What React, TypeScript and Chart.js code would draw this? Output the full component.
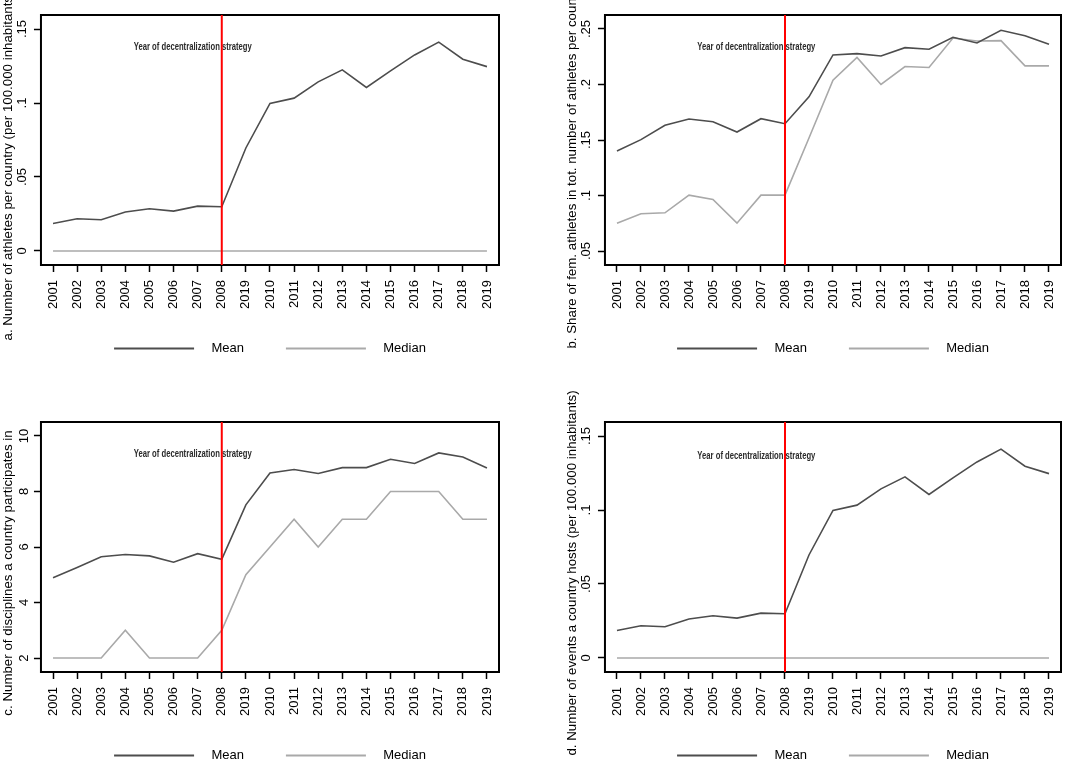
import React, { useEffect, useRef } from 'react';
import { Chart, registerables } from 'chart.js';

Chart.register(...registerables);

// ---------- data ----------
const years = ['2001', '2002', '2003', '2004', '2005', '2006', '2007', '2008', '2019', '2010', '2011', '2012', '2013', '2014', '2015', '2016', '2017', '2018', '2019'];

const athletesMean = [0.0186, 0.0218, 0.0211, 0.0263, 0.0285, 0.0269, 0.0303, 0.0299, 0.0696, 0.0997, 0.1033, 0.1143, 0.1224, 0.1105, 0.1217, 0.1325, 0.1412, 0.1296, 0.1246];
const athletesMedian = [0, 0, 0, 0, 0, 0, 0, 0, 0, 0, 0, 0, 0, 0, 0, 0, 0, 0, 0];

const femShareMean = [0.1401, 0.1503, 0.1632, 0.1689, 0.1665, 0.1572, 0.1692, 0.1647, 0.1889, 0.2266, 0.2278, 0.2257, 0.2332, 0.2317, 0.2425, 0.2374, 0.2488, 0.2440, 0.2362];
const femShareMedian = [0.0751, 0.0835, 0.0844, 0.1003, 0.0964, 0.0751, 0.1003, 0.1003, 0.1518, 0.2039, 0.2243, 0.2000, 0.2162, 0.2153, 0.2419, 0.2392, 0.2395, 0.2168, 0.2168];

const disciplinesMean = [4.89, 5.26, 5.65, 5.73, 5.68, 5.45, 5.76, 5.56, 7.52, 8.67, 8.79, 8.65, 8.86, 8.86, 9.16, 9.01, 9.39, 9.24, 8.85];
const disciplinesMedian = [2, 2, 2, 3, 2, 2, 2, 3, 5, 6, 7, 6, 7, 7, 8, 8, 8, 7, 7];

const eventsMean = [0.0186, 0.0218, 0.0211, 0.0263, 0.0285, 0.0269, 0.0303, 0.0299, 0.0696, 0.0997, 0.1033, 0.1143, 0.1224, 0.1105, 0.1217, 0.1325, 0.1412, 0.1296, 0.1246];
const eventsMedian = [0, 0, 0, 0, 0, 0, 0, 0, 0, 0, 0, 0, 0, 0, 0, 0, 0, 0, 0];

const ticksPer100k = [0, 0.05, 0.1, 0.15];
const ticksPer100kLabels = ['0', '.05', '.1', '.15'];
const ticksShare = [0.05, 0.1, 0.15, 0.2, 0.25];
const ticksShareLabels = ['.05', '.1', '.15', '.2', '.25'];
const ticksDisc = [2, 4, 6, 8, 10];
const ticksDiscLabels = ['2', '4', '6', '8', '10'];

const seriesNames = ['Mean', 'Median'];
const annotationText = 'Year of decentralization strategy';
const strategyYearIndex = 7;

// ---------- style ----------
const FONT = "'Liberation Sans', Arial, sans-serif";
const MEAN_COLOR = '#4d4d4d';
const MEDIAN_COLOR = '#a9a9a9';
const CW = 542;
const CH = 398;
const ANNOT_WIDTH = 118;

const decoPlugin = {
  id: 'deco',
  afterDatasetsDraw(chart: any, _args: any, opts: any) {
    const { ctx, chartArea, scales } = chart;
    ctx.save();
    // frame
    ctx.strokeStyle = '#000';
    ctx.lineWidth = 2;
    ctx.strokeRect(chartArea.left, chartArea.top, chartArea.right - chartArea.left, chartArea.bottom - chartArea.top);
    // annotation text (condensed face)
    ctx.save();
    ctx.font = `bold 10px ${FONT}`;
    const w = ctx.measureText(opts.text).width || ANNOT_WIDTH;
    ctx.translate(scales.x.getPixelForValue(opts.textIndex), scales.y.getPixelForValue(opts.textValue));
    ctx.scale(ANNOT_WIDTH / w, 1);
    ctx.fillStyle = '#2a2a2a';
    ctx.textAlign = 'left';
    ctx.textBaseline = 'middle';
    ctx.fillText(opts.text, 0, 0);
    ctx.restore();
    // red vertical line
    const x = scales.x.getPixelForValue(opts.lineIndex);
    ctx.strokeStyle = '#ff0000';
    ctx.lineWidth = 2;
    ctx.beginPath();
    ctx.moveTo(x, chartArea.top);
    ctx.lineTo(x, chartArea.bottom);
    ctx.stroke();
    ctx.restore();
  },
};

type Spec = {
  left: number;
  top: number;
  title: string;
  titlePadTop: number;
  padRight: number;
  mean: number[];
  median: number[];
  yMin: number;
  yMax: number;
  yTicks: number[];
  yTickLabels: string[];
  textValue: number;
};

const specs: Spec[] = [
  {
    left: 0, top: -33, title: 'a. Number of athletes per country (per 100.000 inhabitants)', titlePadTop: 0, padRight: 43,
    mean: athletesMean, median: athletesMedian, yMin: -0.0095, yMax: 0.1595, yTicks: ticksPer100k, yTickLabels: ticksPer100kLabels, textValue: 0.1378,
  },
  {
    left: 542, top: -33, title: 'b. Share of fem. athletes in tot. number of athletes per country', titlePadTop: 22, padRight: 23,
    mean: femShareMean, median: femShareMedian, yMin: 0.0374, yMax: 0.2626, yTicks: ticksShare, yTickLabels: ticksShareLabels, textValue: 0.2338,
  },
  {
    left: 0, top: 374, title: 'c. Number of disciplines a country participates in', titlePadTop: 0, padRight: 43,
    mean: disciplinesMean, median: disciplinesMedian, yMin: 1.496, yMax: 10.504, yTicks: ticksDisc, yTickLabels: ticksDiscLabels, textValue: 9.35,
  },
  {
    left: 542, top: 374, title: 'd. Number of events a country hosts (per 100.000 inhabitants)', titlePadTop: 22, padRight: 23,
    mean: eventsMean, median: eventsMedian, yMin: -0.0095, yMax: 0.1595, yTicks: ticksPer100k, yTickLabels: ticksPer100kLabels, textValue: 0.1365,
  },
];

function Panel({ spec }: { spec: Spec }) {
  const ref = useRef<HTMLCanvasElement>(null);
  useEffect(() => {
    const chart = new Chart(ref.current as HTMLCanvasElement, {
      type: 'line',
      data: {
        labels: years,
        datasets: [
          { label: seriesNames[0], data: spec.mean, borderColor: MEAN_COLOR, backgroundColor: MEAN_COLOR, borderWidth: 1.6, pointRadius: 0, tension: 0 },
          { label: seriesNames[1], data: spec.median, borderColor: MEDIAN_COLOR, backgroundColor: MEDIAN_COLOR, borderWidth: 1.6, pointRadius: 0, tension: 0 },
        ],
      },
      options: {
        responsive: false,
        animation: false,
        events: [],
        layout: { padding: { left: 0, right: spec.padRight, top: 0, bottom: 0 } },
        scales: {
          x: {
            type: 'category',
            offset: true,
            border: { display: false },
            grid: { display: true, drawOnChartArea: false, drawTicks: true, tickLength: 7, tickWidth: 1.5, tickColor: '#000', offset: false },
            ticks: { autoSkip: false, minRotation: 90, maxRotation: 90, padding: 8, color: '#000', font: { family: FONT, size: 13 } },
            afterFit: (s: any) => {
              s.height = 35;
              // let the rotated year labels extend below the axis box
              s._computeLabelArea = () => null;
            },
          },
          y: {
            type: 'linear',
            min: spec.yMin,
            max: spec.yMax,
            border: { display: false },
            grid: { display: true, drawOnChartArea: false, drawTicks: true, tickLength: 7, tickWidth: 1.5, tickColor: '#000' },
            afterBuildTicks: (s: any) => { s.ticks = spec.yTicks.map((v) => ({ value: v })); },
            ticks: {
              minRotation: 90, maxRotation: 90, crossAlign: 'center', padding: 2.5, color: '#000',
              font: { family: FONT, size: 13 },
              callback: (_v: any, i: number) => spec.yTickLabels[i],
            },
            afterFit: (s: any) => { s.width = 25; },
          },
        },
        plugins: {
          tooltip: { enabled: false },
          title: {
            display: true, position: 'left', text: spec.title, color: '#000',
            font: { family: FONT, size: 13.3, weight: 'normal', lineHeight: 1.2 },
            padding: { top: spec.titlePadTop, bottom: 0 },
          },
          subtitle: {
            display: true, position: 'top', text: '',
            font: { size: 10, lineHeight: 1 },
            padding: { top: 38, bottom: 0 },
          },
          legend: {
            display: true, position: 'bottom', align: 'center', fullSize: false,
            labels: {
              boxWidth: 80, boxHeight: 2, padding: 42, color: '#000',
              font: { family: FONT, size: 13 },
              generateLabels: (c: any) =>
                Chart.defaults.plugins.legend.labels.generateLabels(c).map((l: any) => ({
                  ...l, text: '   ' + l.text, fillStyle: l.strokeStyle, lineWidth: 0,
                })),
            },
          },
          deco: { text: annotationText, textIndex: 3.35, textValue: spec.textValue, lineIndex: strategyYearIndex },
        } as any,
      },
      plugins: [decoPlugin],
    } as any);
    return () => chart.destroy();
  }, [spec]);
  return (
    <canvas
      ref={ref}
      width={CW}
      height={CH}
      style={{ position: 'absolute', left: spec.left, top: spec.top, width: CW, height: CH }}
    />
  );
}

export default function App() {
  return (
    <div style={{ position: 'fixed', left: 0, top: 0, width: 1084, height: 762, overflow: 'hidden', background: '#fff' }}>
      {specs.map((s, i) => (
        <Panel key={i} spec={s} />
      ))}
    </div>
  );
}
